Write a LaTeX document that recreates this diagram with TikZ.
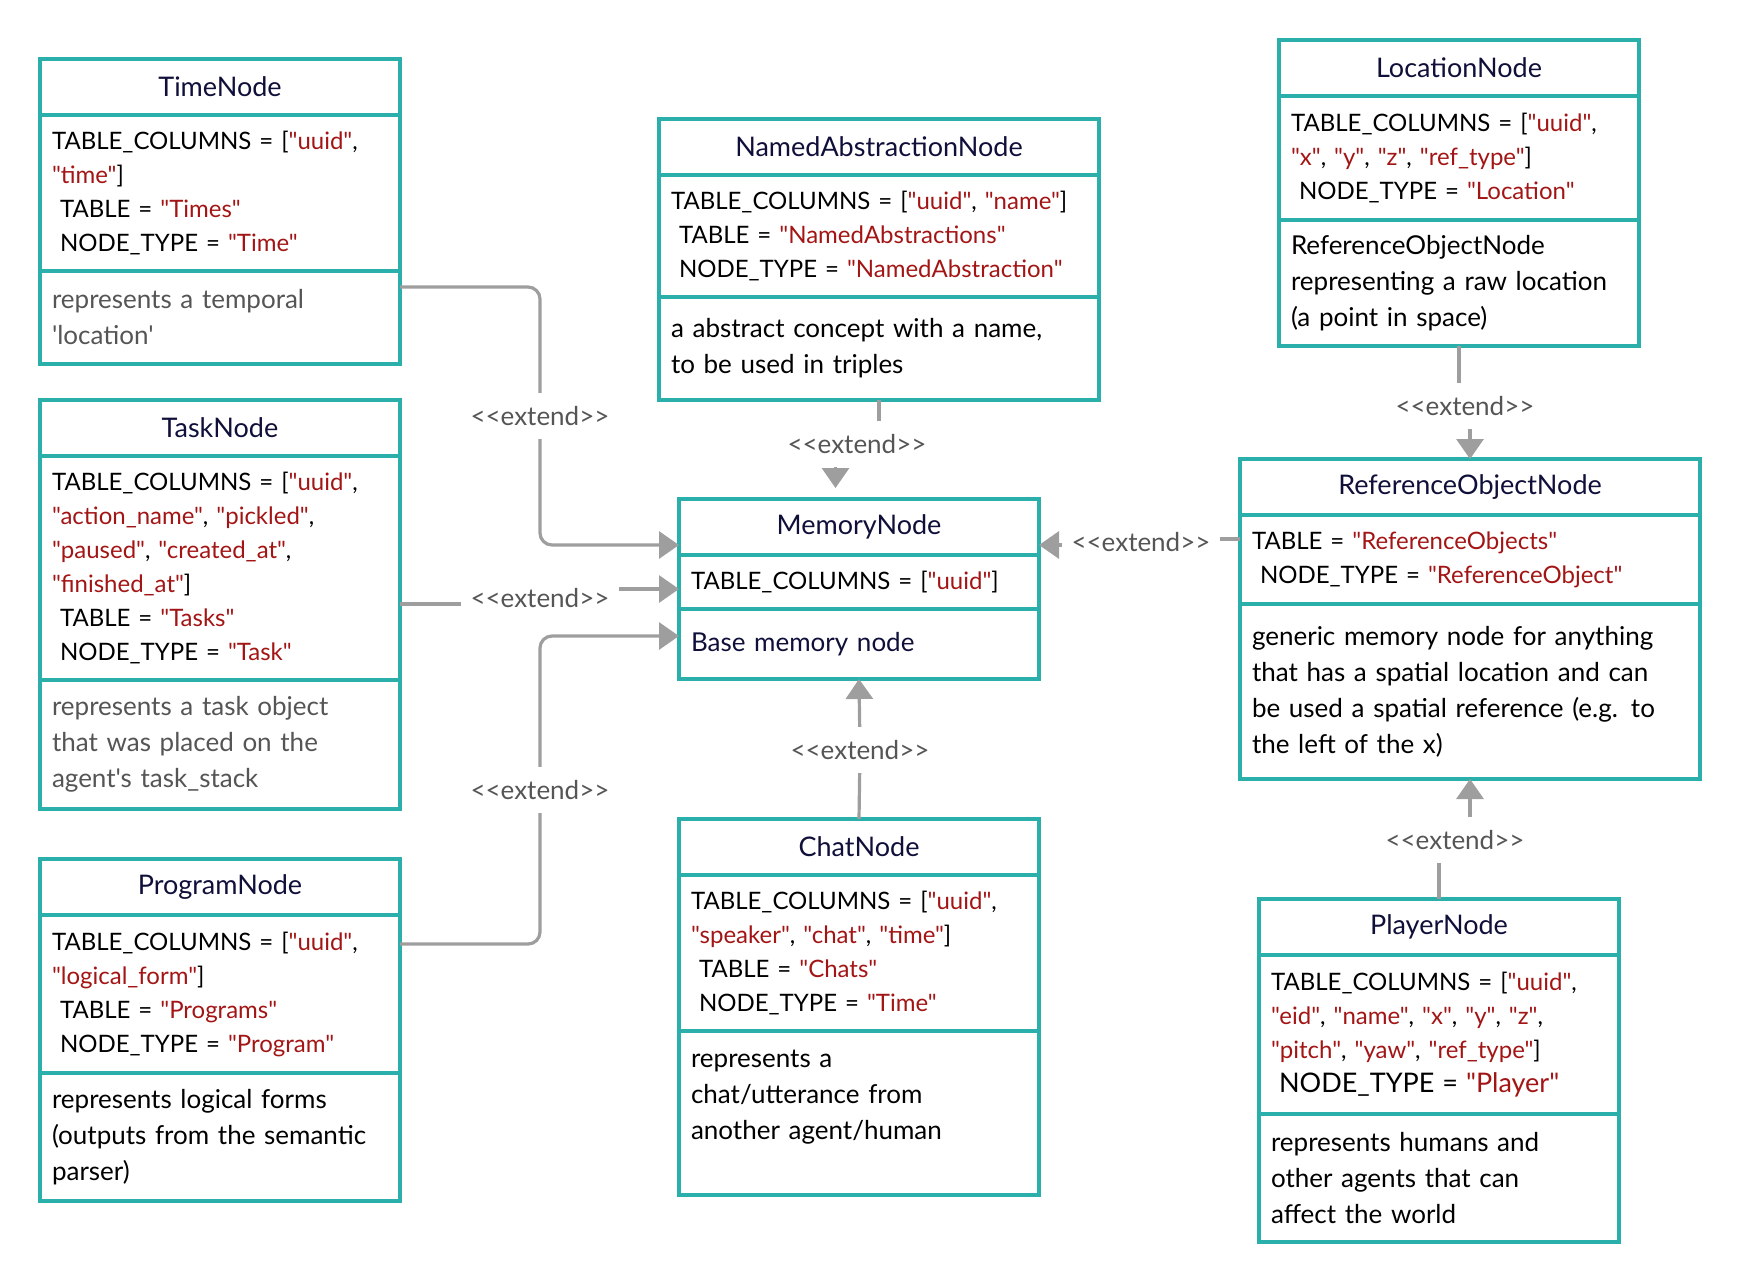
\documentclass[tikz,border=0pt]{standalone}
\usepackage{fontspec}
\usepackage{tikz}
\usetikzlibrary{arrows.meta}
\newfontfamily\lato{Lato}
\definecolor{UmlTeal}{HTML}{2AAFAB}
\definecolor{UmlNavy}{HTML}{0F0F3A}
\definecolor{UmlRed}{HTML}{A31515}
\definecolor{UmlGray}{HTML}{555555}
\definecolor{LinkGray}{HTML}{9E9E9E}
\newcommand\qv[1]{\textcolor{UmlRed}{"#1"}}

\begin{document}
\begin{tikzpicture}[x=1pt,y=-1pt,
    uhead/.style={draw=UmlTeal,line width=1.8pt,outer sep=0pt,inner sep=0pt,anchor=north west,
      minimum height=28pt,text=UmlNavy,font=\lato\fontsize{13.5}{15}\selectfont},
    ubody/.style={draw=UmlTeal,line width=1.8pt,outer sep=0pt,inner xsep=6pt,inner ysep=0pt,
      anchor=north,align=left},
    uattr/.style={ubody,font=\lato\fontsize{12}{17}\selectfont},
    udesc/.style={ubody,font=\lato\fontsize{13}{18}\selectfont},
    link/.style={draw=LinkGray,line width=1.6pt,rounded corners=6pt},
    extend/.style={link,-{Triangle[width=13.5pt,length=10pt]}},
    lbl/.style={text=UmlGray,font=\lato\fontsize{13}{15}\selectfont,inner xsep=4.5pt,inner ysep=6.5pt}]
  \useasboundingbox (0,0) rectangle (870,641);

  % left column
  \node[uhead,minimum width=180pt] (time-head) at (20,29.5) {TimeNode};
  \node[uattr,text width=168pt,minimum height=78pt] (time-attr) at (time-head.south)
    {TABLE\_COLUMNS = [\qv{uuid},\\\qv{time}]\\\ TABLE = \qv{Times}\\\ NODE\_TYPE = \qv{Time}};
  \node[udesc,text width=168pt,minimum height=46.5pt,text=UmlGray] (time-desc) at (time-attr.south)
    {represents a temporal\\'location'};

  \node[uhead,minimum width=180pt] (task-head) at (20,200) {TaskNode};
  \node[uattr,text width=168pt,minimum height=112pt] (task-attr) at (task-head.south)
    {TABLE\_COLUMNS = [\qv{uuid},\\\qv{action\_name}, \qv{pickled},\\\qv{paused}, \qv{created\_at},\\
     \qv{finished\_at}]\\\ TABLE = \qv{Tasks}\\\ NODE\_TYPE = \qv{Task}};
  \node[udesc,text width=168pt,minimum height=64.5pt,text=UmlGray] (task-desc) at (task-attr.south)
    {represents a task object\\that was placed on the\\agent's task\_stack};

  \node[uhead,minimum width=180pt] (prog-head) at (20,429.5) {ProgramNode};
  \node[uattr,text width=168pt,minimum height=79pt] (prog-attr) at (prog-head.south)
    {TABLE\_COLUMNS = [\qv{uuid},\\\qv{logical\_form}]\\\ TABLE = \qv{Programs}\\\ NODE\_TYPE = \qv{Program}};
  \node[udesc,text width=168pt,minimum height=64pt] (prog-desc) at (prog-attr.south)
    {represents logical forms\\(outputs from the semantic\\parser)};

  % middle column
  \node[uhead,minimum width=220pt] (nan-head) at (329.5,59.5) {NamedAbstractionNode};
  \node[uattr,text width=208pt,minimum height=61pt] (nan-attr) at (nan-head.south)
    {TABLE\_COLUMNS = [\qv{uuid}, \qv{name}]\\\ TABLE = \qv{NamedAbstractions}\\\ NODE\_TYPE = \qv{NamedAbstraction}};
  \node[udesc,text width=208pt,minimum height=51.5pt] (nan-desc) at (nan-attr.south)
    {a abstract concept with a name,\\to be used in triples};

  \node[uhead,minimum width=180pt] (mem-head) at (339.5,249.5) {MemoryNode};
  \node[uattr,text width=168pt,minimum height=27pt] (mem-attr) at (mem-head.south)
    {TABLE\_COLUMNS = [\qv{uuid}]};
  \node[udesc,text width=168pt,minimum height=35pt,text=UmlNavy] (mem-desc) at (mem-attr.south)
    {Base memory node};

  \node[uhead,minimum width=180pt] (chat-head) at (339.5,409.5) {ChatNode};
  \node[uattr,text width=168pt,minimum height=78pt] (chat-attr) at (chat-head.south)
    {TABLE\_COLUMNS = [\qv{uuid},\\\qv{speaker}, \qv{chat}, \qv{time}]\\\ TABLE = \qv{Chats}\\\ NODE\_TYPE = \qv{Time}};
  \node[udesc,text width=168pt,minimum height=82pt] (chat-desc) at (chat-attr.south)
    {represents a\\chat/utterance from\\another agent/human\\\mbox{}};

  % right column
  \node[uhead,minimum width=180pt] (loc-head) at (639.5,20) {LocationNode};
  \node[uattr,text width=168pt,minimum height=62pt] (loc-attr) at (loc-head.south)
    {TABLE\_COLUMNS = [\qv{uuid},\\\qv{x}, \qv{y}, \qv{z}, \qv{ref\_type}]\\\ NODE\_TYPE = \qv{Location}};
  \node[udesc,text width=168pt,minimum height=63pt] (loc-desc) at (loc-attr.south)
    {ReferenceObjectNode\\representing a raw location\\(a point in space)};

  \node[uhead,minimum width=230pt] (rob-head) at (620,229.5) {ReferenceObjectNode};
  \node[uattr,text width=218pt,minimum height=44.5pt] (rob-attr) at (rob-head.south)
    {TABLE = \qv{ReferenceObjects}\\\ NODE\_TYPE = \qv{ReferenceObject}};
  \node[udesc,text width=218pt,minimum height=87.5pt] (rob-desc) at (rob-attr.south)
    {generic memory node for anything\\that has a spatial location and can\\be used a spatial reference (e.g. to\\the left of the x)};

  \node[uhead,minimum width=180pt] (player-head) at (629.5,449.5) {PlayerNode};
  \node[uattr,text width=168pt,minimum height=79.5pt] (player-attr) at (player-head.south)
    {TABLE\_COLUMNS = [\qv{uuid},\\\qv{eid}, \qv{name}, \qv{x}, \qv{y}, \qv{z},\\\qv{pitch}, \qv{yaw}, \qv{ref\_type}]\\
     {\fontsize{13.5}{17}\selectfont\ NODE\_TYPE = \qv{Player}}};
  \node[udesc,text width=168pt,minimum height=64pt] (player-desc) at (player-attr.south)
    {represents humans and\\other agents that can\\affect the world};

  % <<extend>> labels
  \node[lbl] (lbl-time) at (270,208) {<<extend>>};
  \node[lbl] (lbl-task) at (270,299) {<<extend>>};
  \node[lbl] (lbl-prog) at (270,395) {<<extend>>};
  \node[lbl] (lbl-nan) at (428.5,222) {<<extend>>};
  \node[lbl] (lbl-rob) at (570.5,271) {<<extend>>};
  \node[lbl] (lbl-loc) at (732.5,203) {<<extend>>};
  \node[lbl] (lbl-chat) at (430,375) {<<extend>>};
  \node[lbl] (lbl-player) at (727.5,420) {<<extend>>};

  % connector ends
  \coordinate (time-out) at ([yshift=-8pt]time-desc.north east);
  \coordinate (task-out) at ([yshift=-18pt]task-attr.east);
  \coordinate (prog-out) at ([yshift=-14.5pt]prog-head.south east);
  \coordinate (rob-out) at ([yshift=-12pt]rob-attr.north west);
  \coordinate (mem-in1) at ([yshift=-9pt]mem-head.west);
  \coordinate (mem-in2) at ([yshift=-3.5pt]mem-attr.west);
  \coordinate (mem-in3) at ([yshift=4pt]mem-desc.west);
  \coordinate (mem-in4) at ([xshift=-11.75pt,yshift=5.5pt]mem-head.north);
  \coordinate (mem-in5) at ([yshift=-9pt]mem-head.east);

  \draw[link] (time-out) -| (lbl-time);
  \draw[extend] (lbl-time) |- (mem-in1);
  \draw[link] (task-out) -- (task-out -| lbl-task.west);
  \draw[extend] (lbl-task.east |- mem-in2) -- (mem-in2);
  \draw[link] (prog-out) -| (lbl-prog);
  \draw[extend] (lbl-prog) |- (mem-in3);
  \draw[link] (nan-desc.south) -- (nan-desc.south |- lbl-nan.north);
  \draw[extend] (lbl-nan.south -| mem-in4) -- (mem-in4);
  \draw[link] (rob-out) -- (rob-out -| lbl-rob.east);
  \draw[extend] (lbl-rob.west |- mem-in5) -- (mem-in5);
  \draw[link] (loc-desc.south) -- (loc-desc.south |- lbl-loc.north);
  \draw[extend] (lbl-loc.south -| rob-head.north) -- (rob-head.north);
  \draw[link] (chat-head.north) -- (lbl-chat);
  \draw[extend] (lbl-chat) -- (mem-desc.south);
  \draw[link] (player-head.north) -- (player-head.north |- lbl-player.south);
  \draw[extend] (lbl-player.north -| rob-desc.south) -- (rob-desc.south);
\end{tikzpicture}
\end{document}
